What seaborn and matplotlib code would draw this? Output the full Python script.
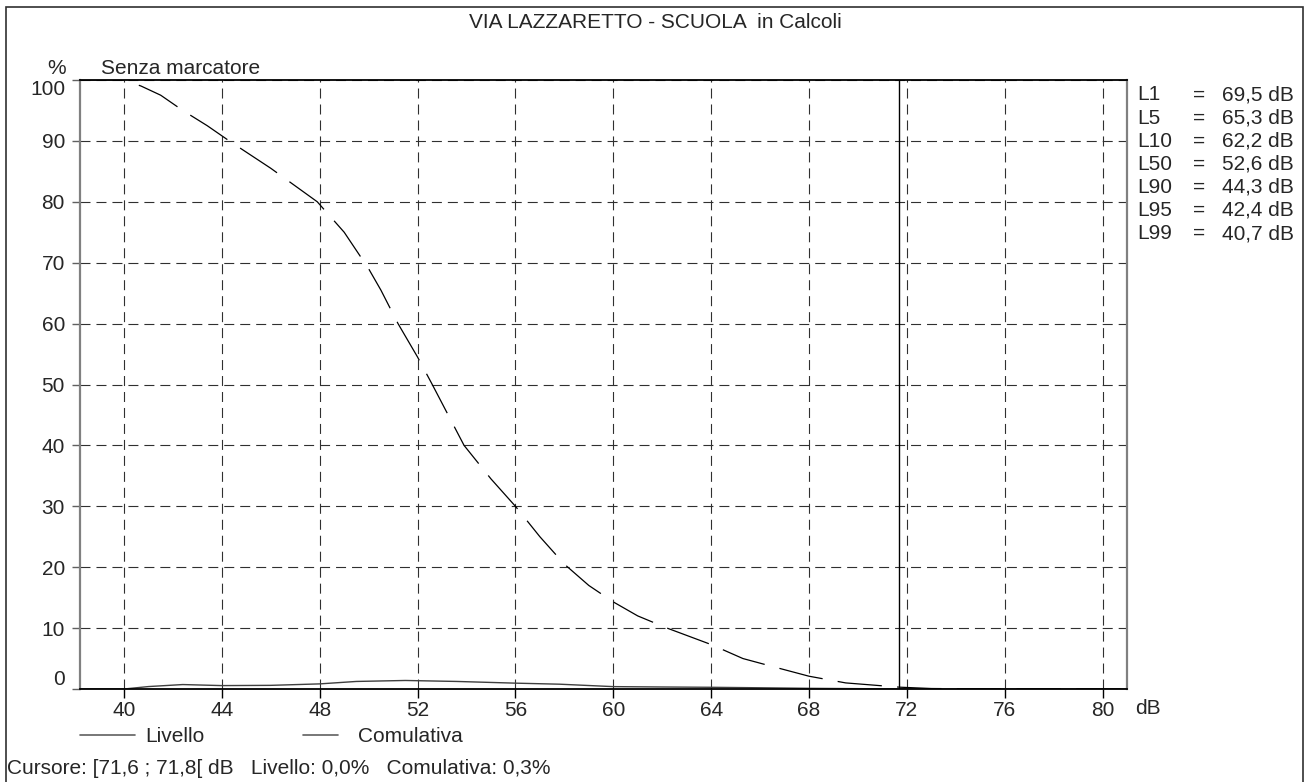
import matplotlib
matplotlib.use("Agg")
import matplotlib.pyplot as plt
from matplotlib.lines import Line2D
from matplotlib.patches import Rectangle
import seaborn as sns

# data
title = "VIA LAZZARETTO - SCUOLA  in Calcoli"
cum_db = [38.2, 40.0, 40.7, 41.5, 42.4, 43.4, 44.3, 46.0, 47.9, 49.0, 50.0, 50.5,
          51.2, 52.0, 52.6, 53.9, 55.0, 56.0, 57.0, 58.0, 59.0, 60.0, 61.0, 62.2,
          64.0, 65.3, 66.5, 68.0, 69.5, 71.7, 73.0, 75.0, 81.0]
cum_pct = [100, 100, 99, 97.5, 95, 92.5, 90, 85.5, 80, 75, 69, 65.5,
           60, 54.5, 50, 40, 34.5, 30, 25, 20.5, 17, 14.3, 12, 10,
           7.3, 5, 3.7, 2.1, 1, 0.3, 0.08, 0.02, 0]
liv_db = [38.2, 40.0, 41.0, 42.4, 44.0, 46.0, 48.0, 49.5, 51.5, 53.6, 56.0, 57.8,
          60.0, 62.0, 64.0, 66.0, 68.0, 70.3, 72.0, 81.0]
liv_pct = [0, 0, 0.4, 0.73, 0.56, 0.6, 0.84, 1.24, 1.4, 1.24, 0.96, 0.79,
           0.39, 0.33, 0.28, 0.2, 0.11, 0.05, 0, 0]
cursor_db = 71.7
stat_names = ["L1", "L5", "L10", "L50", "L90", "L95", "L99"]
stat_values = ["69,5", "65,3", "62,2", "52,6", "44,3", "42,4", "40,7"]
x_ticks = list(range(40, 81, 4))
y_ticks = list(range(0, 101, 10))
cursor_text = "Cursore: [71,6 ; 71,8[ dB   Livello: 0,0%   Comulativa: 0,3%"

sns.set_style("white")
plt.rcParams["font.family"] = ["Liberation Sans", "DejaVu Sans"]
plt.rcParams["lines.scale_dashes"] = False
FS = 15

W, H = 1312, 782


def px(x, y):
    # pixel position -> figure fraction
    return x / W, 1 - y / H


fig = plt.figure(figsize=(W / 100, H / 100), dpi=100)
ax = fig.add_axes([80 / W, 1 - 689 / H, (1127 - 80) / W, (689 - 80) / H])

# outer frame
fig.add_artist(Rectangle(px(6, 800), (1303 - 6) / W, (800 - 7) / H,
                         transform=fig.transFigure, fill=False,
                         edgecolor="#303030", lw=1.2))

ax.set_xlim(38.2, 81.0)
ax.set_ylim(0, 100)
ax.set_xticks(x_ticks)
ax.set_yticks(y_ticks)
ax.grid(True, color="#303030", lw=0.8, linestyle=(0, (7.2, 4.3)))

sns.lineplot(x=liv_db, y=liv_pct, color="#404040", lw=1.0, ax=ax)
sns.lineplot(x=cum_db, y=cum_pct, color="black", lw=0.9,
             linestyle=(0, (32, 11)), ax=ax)
ax.axvline(cursor_db, color="black", lw=1.0)

for side in ["left", "right"]:
    ax.spines[side].set_color("#808080")
    ax.spines[side].set_linewidth(1.6)
for side in ["top", "bottom"]:
    ax.spines[side].set_color("black")
    ax.spines[side].set_linewidth(1.3)

ax.tick_params(axis="x", direction="out", length=6.5, width=1, color="black",
               pad=2, labelsize=FS, bottom=True)
ax.tick_params(axis="y", direction="out", length=5.8, width=1, color="#606060",
               pad=5, labelsize=FS, left=True)
ax.set_xticklabels([str(t) for t in x_ticks])
ylabels = ax.set_yticklabels([str(t) for t in y_ticks])
ylabels[0].set_va("bottom")
ylabels[-1].set_va("top")

# titles and axis captions
fig.text(*px(655, 22), title, ha="center", va="center", fontsize=FS)
fig.text(*px(57, 69), "%", ha="center", va="center", fontsize=FS)
fig.text(*px(101, 69), "Senza marcatore", ha="left", va="center", fontsize=FS)
fig.text(*px(1135, 709), "dB", ha="left", va="center", fontsize=FS)

# statistics column
for i, (name, val) in enumerate(zip(stat_names, stat_values)):
    y = 95 + i * 23.1
    fig.text(*px(1137, y), name, ha="left", va="center", fontsize=FS)
    fig.text(*px(1193, y), "=", ha="left", va="center", fontsize=FS)
    fig.text(*px(1222, y), val + " dB", ha="left", va="center", fontsize=FS)

# legend drawn by hand (both keys are plain grey lines in the original)
for (x0, x1), label, xt in [((80, 135), "Livello", 145), ((303, 338), "Comulativa", 358)]:
    fig.add_artist(Line2D([x0 / W, x1 / W], [1 - 735 / H, 1 - 735 / H],
                          transform=fig.transFigure, color="#606060", lw=1.2))
    fig.text(*px(xt, 736), label, ha="left", va="center", fontsize=FS)

fig.text(*px(7, 769), cursor_text, ha="left", va="center", fontsize=FS)

fig.savefig("out.png", dpi=100)
